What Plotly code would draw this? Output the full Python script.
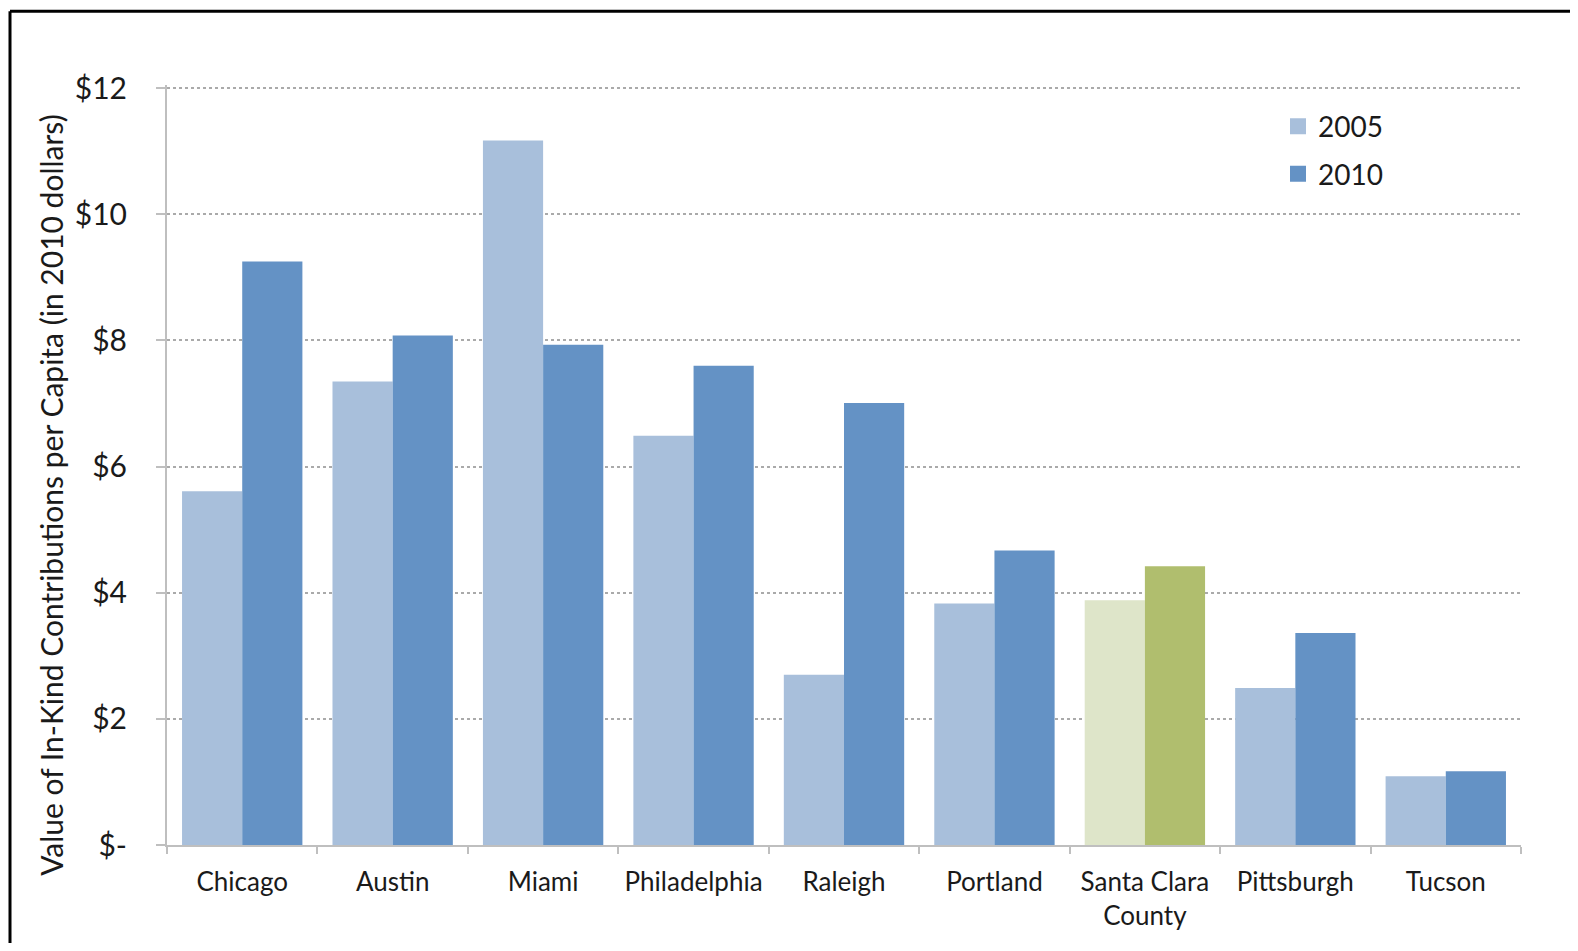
import plotly.graph_objects as go

cities = ["Chicago", "Austin", "Miami", "Philadelphia", "Raleigh", "Portland",
          "Santa Clara<br>County", "Pittsburgh", "Tucson"]
v2005 = [5.61, 7.35, 11.17, 6.49, 2.70, 3.83, 3.88, 2.49, 1.09]
v2010 = [9.25, 8.08, 7.93, 7.60, 7.01, 4.67, 4.42, 3.36, 1.17]
ytick_vals = [0, 2, 4, 6, 8, 10, 12]
ytick_text = ["$-", "$2", "$4", "$6", "$8", "$10", "$12"]
series_names = ["2005", "2010"]
y_title = "Value of In-Kind Contributions per Capita (in 2010 dollars)"

c05 = ["#A8BFDB"] * len(cities)
c10 = ["#6492C5"] * len(cities)
c05[6] = "#DEE5C9"
c10[6] = "#B0BE6E"

FONT = "Lato"
W, H = 1562, 935
L, T, R, B = 159, 77, 49, 81   # plot area in figure pixels

fig = go.Figure()
fig.add_trace(go.Bar(x=cities, y=v2005, name=series_names[0], showlegend=False,
                     marker=dict(color=c05, line=dict(width=0))))
fig.add_trace(go.Bar(x=cities, y=v2010, name=series_names[1], showlegend=False,
                     marker=dict(color=c10, line=dict(width=0))))
for nm, col in zip(series_names, [c05[0], c10[0]]):
    fig.add_trace(go.Scatter(x=[None], y=[None], mode="markers", name=nm, legendgroup=nm,
                             marker=dict(symbol="square", size=16, color=col)))

pw, ph = W - L - R, H - T - B

fig.update_layout(
    width=W, height=H,
    paper_bgcolor="white", plot_bgcolor="white",
    margin=dict(l=L, r=R, t=T, b=B, pad=0),
    barmode="group", bargap=0.2, bargroupgap=0,
    font=dict(family=FONT, color="#1a1a1a", size=24),
    showlegend=True,
    legend=dict(x=(1270 - L) / pw, y=1 - (94 - T) / ph, xanchor="left", yanchor="top",
                font=dict(size=28, family=FONT, color="#1a1a1a"),
                bgcolor="rgba(0,0,0,0)", itemwidth=30, tracegroupgap=8),
    xaxis=dict(showline=True, linecolor="#BFBFBF", linewidth=2,
               ticks="outside", tickson="boundaries", ticklen=7, tickcolor="#BFBFBF", tickwidth=2,
               ticklabelstandoff=13,
               tickfont=dict(size=26, family=FONT, color="#1a1a1a"), showgrid=False),
    yaxis=dict(range=[0, 12.05], tickvals=ytick_vals, ticktext=ytick_text,
               showline=True, linecolor="#BFBFBF", linewidth=2,
               ticks="outside", ticklen=9, tickcolor="#BFBFBF", tickwidth=2,
               ticklabelstandoff=23,
               showgrid=True, gridcolor="#AAAAAA", griddash="dot", gridwidth=1.5,
               tickfont=dict(size=30, family=FONT, color="#1a1a1a"),
               zeroline=False),
)

# rotated y-axis title (positioned like the reference, slightly below centre)
fig.add_annotation(text=y_title, textangle=-90, xref="paper", yref="paper",
                   x=(43 - L) / pw, y=1 - (496 - T) / ph, xanchor="center", yanchor="middle",
                   showarrow=False, font=dict(size=30, family=FONT, color="#1a1a1a"))

# outer frame (top and left edges)
fx = (2 - L) / pw
fy = 1 + (T - 1.5) / ph
fig.add_shape(type="line", xref="paper", yref="paper", x0=fx, x1=1.1, y0=fy, y1=fy,
              line=dict(color="black", width=3))
fig.add_shape(type="line", xref="paper", yref="paper", x0=fx, x1=fx, y0=fy, y1=-0.2,
              line=dict(color="black", width=3))

fig.write_html("out.html")
